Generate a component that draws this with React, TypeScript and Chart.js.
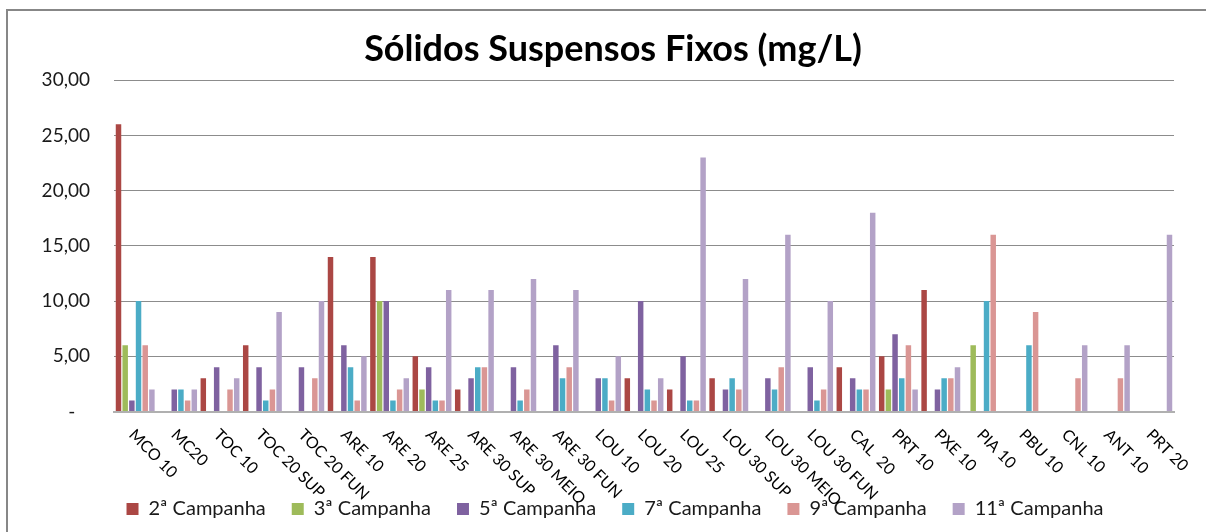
import React, { useEffect, useRef } from "react";
import { Chart, registerables } from "chart.js";

Chart.register(...registerables);

const categories: string[] = [
  "MCO 10", "MC20", "TOC 10", "TOC 20 SUP", "TOC 20 FUN", "ARE 10", "ARE 20", "ARE 25",
  "ARE 30 SUP", "ARE 30 MEIO", "ARE 30 FUN", "LOU 10", "LOU 20", "LOU 25", "LOU 30 SUP",
  "LOU 30 MEIO", "LOU 30 FUN", "CAL  20", "PRT 10", "PXE 10", "PIA 10", "PBU 10", "CNL 10",
  "ANT 10", "PRT 20",
];

const seriesNames: string[] = [
  "2ª Campanha", "3ª Campanha", "5ª Campanha", "7ª Campanha", "9ª Campanha", "11ª Campanha",
];

const camp2: (number | null)[] = [26, null, 3, 6, null, 14, 14, 5, 2, null, null, null, 3, 2, 3, null, null, 4, 5, 11, null, null, null, null, null];
const camp3: (number | null)[] = [6, null, null, null, null, null, 10, 2, null, null, null, null, null, null, null, null, null, null, 2, null, 6, null, null, null, null];
const camp5: (number | null)[] = [1, 2, 4, 4, 4, 6, 10, 4, 3, 4, 6, 3, 10, 5, 2, 3, 4, 3, 7, 2, null, null, null, null, null];
const camp7: (number | null)[] = [10, 2, null, 1, null, 4, 1, 1, 4, 1, 3, 3, 2, 1, 3, 2, 1, 2, 3, 3, 10, 6, null, null, null];
const camp9: (number | null)[] = [6, 1, 2, 2, 3, 1, 2, 1, 4, 2, 4, 1, 1, 1, 2, 4, 2, 2, 6, 3, 16, 9, 3, 3, null];
const camp11: (number | null)[] = [2, 2, 3, 9, 10, 5, 3, 11, 11, 12, 11, 5, 3, 23, 12, 16, 10, 18, 2, 4, null, null, 6, 6, 16];

const yTicks: number[] = [0, 5, 10, 15, 20, 25, 30];

const colors = ["#AB4744", "#9EBB5A", "#7F62A0", "#4BACC6", "#DA9694", "#B3A2C7"];

const FONT = "Lato, 'Open Sans', sans-serif";

export default function App() {
  const canvasRef = useRef<HTMLCanvasElement | null>(null);

  useEffect(() => {
    if (!canvasRef.current) return;
    const values = [camp2, camp3, camp5, camp7, camp9, camp11];

    const xLabelPlugin = {
      id: "xLabels",
      afterDraw(chart: any) {
        const { ctx, chartArea } = chart;
        const xs = chart.scales.x;
        ctx.save();
        ctx.font = `16px ${FONT}`;
        ctx.fillStyle = "#000";
        ctx.textAlign = "left";
        ctx.textBaseline = "top";
        categories.forEach((c, i) => {
          const px = xs.getPixelForValue(i);
          ctx.save();
          ctx.translate(px + 2, chartArea.bottom + 15);
          ctx.rotate(Math.PI / 4);
          ctx.fillText(c, 0, 0);
          ctx.restore();
        });
        ctx.restore();
      },
    };

    const boxShift = {
      id: "boxShift",
      afterLayout(chart: any) {
        if (chart.legend) {
          chart.legend.left += 8;
          chart.legend.right += 8;
        }
        if (chart.titleBlock) {
          chart.titleBlock.left += 6;
          chart.titleBlock.right += 6;
        }
      },
    };

    const chart = new Chart(canvasRef.current, {
      type: "bar",
      data: {
        labels: categories,
        datasets: seriesNames.map((name, i) => ({
          label: name,
          data: values[i],
          backgroundColor: colors[i],
          borderWidth: 0,
          barPercentage: 0.82,
          categoryPercentage: 0.945,
        })),
      },
      options: {
        responsive: false,
        animation: false,
        devicePixelRatio: 1,
        layout: { padding: { top: 0, right: 32, bottom: 3, left: 40 } },
        plugins: {
          title: {
            display: true,
            text: "Sólidos Suspensos Fixos (mg/L)",
            color: "#000",
            font: { family: FONT, size: 36, weight: "bold" },
            padding: { top: 28, bottom: 9 },
          },
          legend: {
            position: "bottom",
            labels: {
              boxWidth: 12,
              boxHeight: 12,
              padding: 26,
              color: "#1a1a1a",
              font: { family: FONT, size: 20 },
            },
          },
          tooltip: { enabled: false },
        },
        scales: {
          x: {
            grid: { display: false, drawTicks: false },
            border: { display: true, color: "#b0b0b0", width: 2 },
            ticks: { display: false },
            afterFit(scale: any) {
              scale.height = 61.5;
            },
          },
          y: {
            min: 0,
            max: 30,
            afterBuildTicks(scale: any) {
              scale.ticks = yTicks.map((v) => ({ value: v }));
            },
            grid: { color: "#8c8c8c", lineWidth: 1, drawTicks: false },
            border: { display: false },
            ticks: {
              padding: 24,
              color: "#1a1a1a",
              font: { family: FONT, size: 19 },
              callback: (v: any) => (Number(v) === 0 ? "-   " : Number(v).toFixed(2).replace(".", ",")),
            },
            afterFit(scale: any) {
              scale.width = 74;
            },
          },
        },
      },
      plugins: [xLabelPlugin, boxShift],
    } as any);

    return () => chart.destroy();
  }, []);

  return (
    <>
      <div
        style={{
          position: "absolute",
          left: 6,
          top: 9,
          width: 1200,
          height: 523,
          borderLeft: "2px solid #878787",
          borderTop: "2px solid #878787",
          boxSizing: "border-box",
          pointerEvents: "none",
        }}
      />
      <canvas
        ref={canvasRef}
        width={1206}
        height={532}
        style={{ position: "absolute", left: 0, top: 0, display: "block" }}
      />
    </>
  );
}
